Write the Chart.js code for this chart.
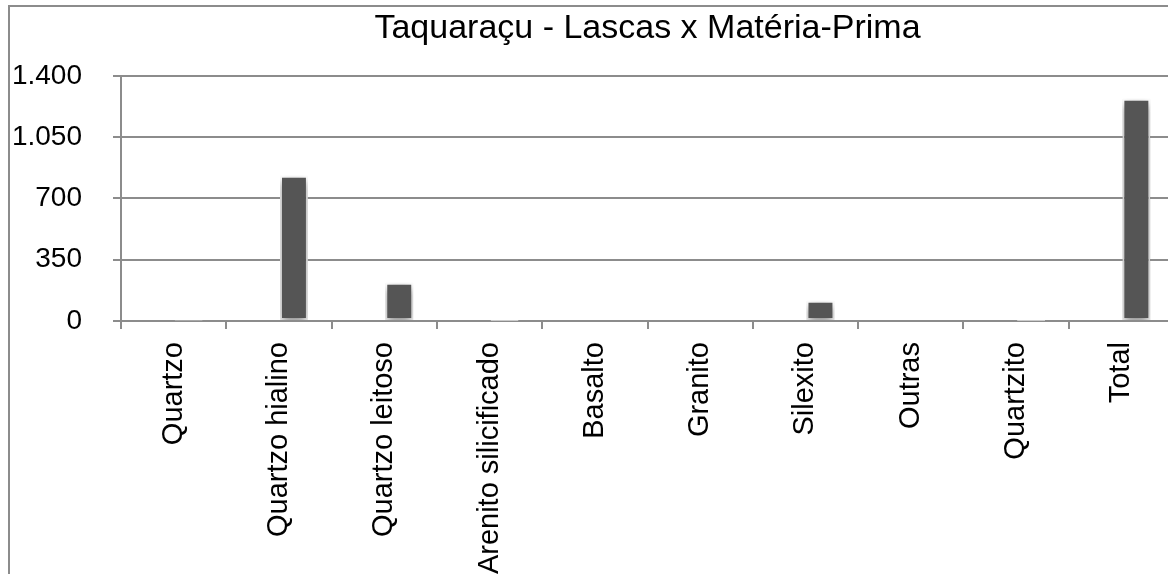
<!DOCTYPE html>
<html>
<head>
<meta charset="utf-8">
<script src="https://cdn.jsdelivr.net/npm/chart.js@4"></script>
<style>
  html, body { margin: 0; padding: 0; background: #fff; overflow: hidden; }
  #wrap { width: 1174px; height: 574px; }
</style>
</head>
<body>
<div id="wrap"><canvas id="chart1"></canvas></div>
<script>
let categorias = ["Quartzo", "Quartzo hialino", "Quartzo leitoso", "Arenito silicificado", "Basalto",
                  "Granito", "Silexito", "Outras", "Quartzito", "Total"];
let lascas = [3, 829, 219, 2, 0, 0, 116, 0, 2, 1269];
// empty first series (keeps the bars shifted right, like in the original sheet)
let serieVazia = [null, null, null, null, null, null, null, null, null, null];
let yTicks = [0, 350, 700, 1050, 1400];

const cinza = "#8c8c8c";
Chart.defaults.font.family = "'Liberation Sans', Arial, sans-serif";

const moldura = {
  id: "moldura",
  beforeDraw(chart) {
    const c = chart.ctx;
    c.save();
    c.strokeStyle = cinza;
    c.lineWidth = 2;
    c.strokeRect(9, 6, 1400, 1000);
    c.restore();
  }
};

const sombra = {
  id: "sombra",
  beforeDatasetsDraw(chart) {
    const c = chart.ctx;
    c.save();
    c.shadowColor = "rgba(0,0,0,0.45)";
    c.shadowBlur = 8;
    c.shadowOffsetY = 4;
  },
  afterDatasetsDraw(chart) {
    chart.ctx.restore();
  }
};

new Chart("chart1", {
  type: "bar",
  data: {
    labels: categorias,
    datasets: [{
      label: "",
      data: serieVazia
    }, {
      label: "Lascas",
      data: lascas,
      backgroundColor: "#555555",
      borderColor: "#ffffff",
      borderWidth: 2,
      borderSkipped: false,
      clip: false
    }]
  },
  options: {
    responsive: true,
    maintainAspectRatio: false,
    animation: false,
    barPercentage: 0.93,
    categoryPercentage: 0.57,
    layout: { padding: 0 },
    plugins: {
      legend: { display: false },
      tooltip: { enabled: false },
      title: {
        display: true,
        text: "Taquaraçu - Lascas x Matéria-Prima",
        fullSize: false,
        color: "#000",
        font: { size: 34, weight: "normal", lineHeight: 1.2 },
        padding: { top: 8, bottom: 27 }
      }
    },
    scales: {
      x: {
        afterFit: s => { s.height = 253; },
        grid: { drawOnChartArea: false, color: cinza, lineWidth: 2, tickLength: 8, offset: true },
        border: { color: cinza, width: 2 },
        ticks: {
          color: "#000",
          font: { size: 29 },
          minRotation: 90,
          maxRotation: 90,
          autoSkip: false,
          padding: 13
        }
      },
      y: {
        min: 0,
        max: 1400,
        afterBuildTicks: s => { s.ticks = yTicks.map(v => ({ value: v })); },
        afterFit: s => { s.width = 121; },
        grid: { color: cinza, lineWidth: 2, tickLength: 8 },
        border: { color: cinza, width: 2 },
        ticks: {
          color: "#000",
          font: { size: 28 },
          padding: 31,
          callback: v => v.toLocaleString("pt-BR")
        }
      }
    }
  },
  plugins: [moldura, sombra]
});
</script>
</body>
</html>
